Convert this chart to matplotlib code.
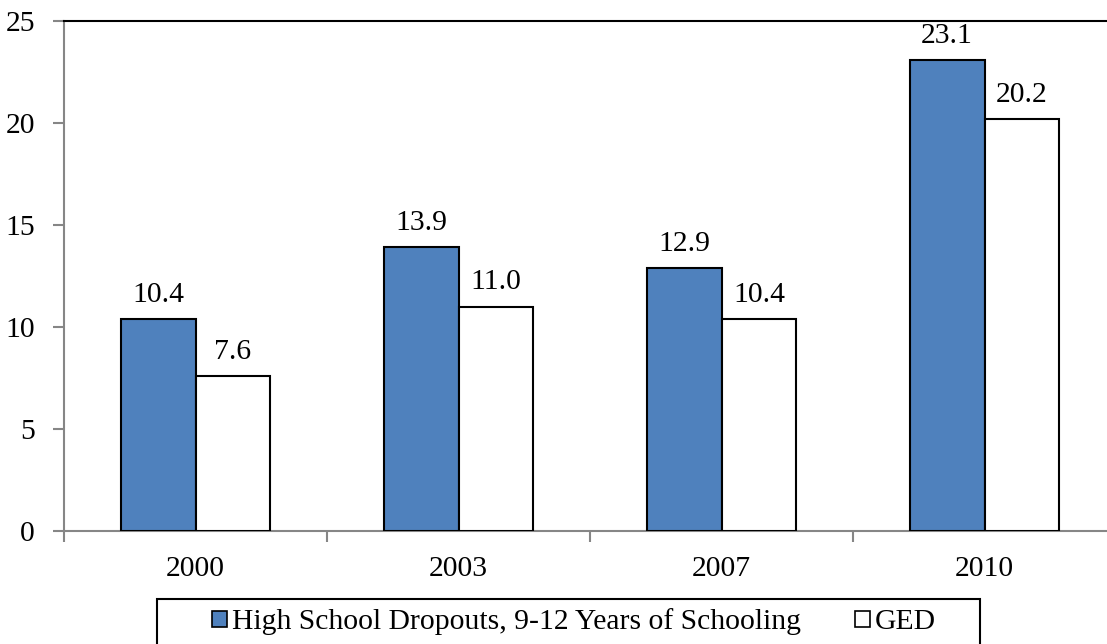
import matplotlib
matplotlib.use("Agg")
import matplotlib.pyplot as plt
from matplotlib.patches import Patch, Rectangle

years = ["2000", "2003", "2007", "2010"]
dropouts = [10.4, 13.9, 12.9, 23.1]
ged = [7.6, 11.0, 10.4, 20.2]
series_names = ["High School Dropouts, 9-12 Years of Schooling", "GED"]
y_ticks = [0, 5, 10, 15, 20, 25]

plt.rcParams["font.family"] = ["Liberation Serif", "DejaVu Serif"]
FS = 21.3

W, H = 1107, 644
fig = plt.figure(figsize=(W / 100, H / 100), dpi=100)
ax = fig.add_axes([64 / W, 1 - 531 / H, (1116 - 64) / W, (531 - 21) / H])

blue = "#4F81BD"
grey = "#868686"
bw = 0.285
x = list(range(len(years)))

b1 = ax.bar([i - bw / 2 for i in x], dropouts, width=bw, color=blue,
            edgecolor="black", linewidth=1.5, zorder=3)
b2 = ax.bar([i + bw / 2 for i in x], ged, width=bw, color="white",
            edgecolor="black", linewidth=1.5, zorder=3)

for bars, vals in ((b1, dropouts), (b2, ged)):
    for rect, v in zip(bars, vals):
        ax.annotate(f"{v:.1f}", (rect.get_x() + rect.get_width() / 2, v),
                    xytext=(0, 8), textcoords="offset points",
                    ha="center", va="bottom", fontsize=FS)

ax.set_xlim(-0.5, len(years) - 0.5)
ax.set_ylim(0, 25)
ax.set_yticks(y_ticks)
ax.set_yticklabels([str(t) for t in y_ticks], fontsize=FS)
ax.set_xticks(x)
ax.set_xticklabels(years, fontsize=FS)
ax.set_xticks([i - 0.5 for i in range(len(years) + 1)], minor=True)

ax.tick_params(axis="x", which="major", length=0, pad=18)
ax.tick_params(axis="x", which="minor", length=8, width=1.5, color=grey,
               direction="out")
ax.tick_params(axis="y", which="major", length=8, width=1.5, color=grey,
               direction="out", pad=13)

for side in ("left", "bottom"):
    ax.spines[side].set_color(grey)
    ax.spines[side].set_linewidth(1.5)
for side in ("top", "right"):
    ax.spines[side].set_color("black")
    ax.spines[side].set_linewidth(1.5)

handles = [Patch(facecolor=blue, edgecolor="black", linewidth=1.2),
           Patch(facecolor="white", edgecolor="black", linewidth=1.2)]
fig.legend(handles, series_names, loc="center", ncol=2, frameon=False,
           bbox_to_anchor=(574 / W, 1 - 622 / H),
           fontsize=FS, handlelength=0.5, handleheight=0.5,
           handletextpad=0.15, columnspacing=1.85)
fig.patches.append(Rectangle((157 / W, -0.1), (980 - 157) / W, 0.1 + 1 - 599 / H,
                             transform=fig.transFigure, fill=False,
                             edgecolor="black", linewidth=1.5))

fig.savefig("out.png", dpi=100)
